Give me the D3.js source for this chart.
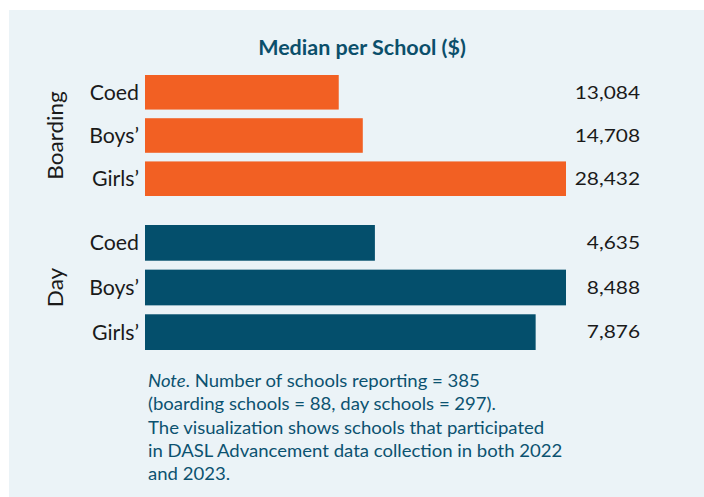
<!DOCTYPE html>
<html>
<head>
<meta charset="utf-8">
<script src="https://cdn.jsdelivr.net/npm/d3@7/dist/d3.min.js"></script>
<style>
  html, body { margin: 0; padding: 0; background: #ffffff; }
  svg { display: block; }
  text { font-family: Lato, "Open Sans", sans-serif; }
</style>
</head>
<body>
<svg id="chart" width="704" height="497"></svg>
<script>
// Median advancement figures per school, by school type
const categories = ["Coed", "Boys’", "Girls’"];
const boardingValues = [13084, 14708, 28432];
const dayValues = [4635, 8488, 7876];
const groupNames = ["Boarding", "Day"];
const noteLines = [
  ["Note", ". Number of schools reporting = 385"],
  ["", "(boarding schools = 88, day schools = 297)."],
  ["", "The visualization shows schools that participated"],
  ["", "in DASL Advancement data collection in both 2022"],
  ["", "and 2023."]
];

const svg = d3.select("#chart");
const fmt = d3.format(",");

// panel background
svg.append("rect")
  .attr("x", 9).attr("y", 10)
  .attr("width", 695).attr("height", 487)
  .attr("fill", "#ebf3f7");

svg.append("text")
  .attr("x", 362).attr("y", 54.5)
  .attr("text-anchor", "middle")
  .attr("font-weight", 700)
  .attr("font-size", 21.5)
  .attr("fill", "#0b4f6b")
  .text("Median per School ($)");

const barLeft = 145, barRight = 566;

const groups = [
  { name: groupNames[0], values: boardingValues, color: "#f26023", top: 75, bottom: 196 },
  { name: groupNames[1], values: dayValues, color: "#044f6c", top: 225, bottom: 350 }
];

groups.forEach(g => {
  // each group is scaled to its own maximum
  const x = d3.scaleLinear()
    .domain([0, d3.max(g.values)])
    .range([barLeft, barRight]);
  const y = d3.scaleBand()
    .domain(categories)
    .range([g.top, g.bottom])
    .paddingInner(0.2);

  const data = categories.map((c, i) => ({ cat: c, value: g.values[i] }));
  const grp = svg.append("g");

  grp.selectAll("rect.bar")
    .data(data)
    .join("rect")
    .attr("class", "bar")
    .attr("x", x(0))
    .attr("y", d => y(d.cat))
    .attr("width", d => x(d.value) - x(0))
    .attr("height", y.bandwidth())
    .attr("fill", g.color);

  // category labels
  grp.selectAll("text.cat")
    .data(data)
    .join("text")
    .attr("class", "cat")
    .attr("x", 139)
    .attr("y", d => y(d.cat) + y.bandwidth() / 2)
    .attr("dy", "0.35em")
    .attr("text-anchor", "end")
    .attr("font-size", 21.3)
    .attr("fill", "#1a1a1a")
    .text(d => d.cat);

  // value labels, slightly widened
  grp.selectAll("text.val")
    .data(data)
    .join("text")
    .attr("class", "val")
    .attr("transform", d => `translate(640,${y(d.cat) + y.bandwidth() / 2}) scale(1.16,1)`)
    .attr("dy", "0.35em")
    .attr("text-anchor", "end")
    .attr("font-size", 18)
    .attr("fill", "#1a1a1a")
    .text(d => fmt(d.value));

  // group label, rotated
  const cy = (g.top + g.bottom) / 2;
  grp.append("text")
    .attr("transform", `translate(63,${cy}) rotate(-90) scale(1.1,1)`)
    .attr("text-anchor", "middle")
    .attr("font-size", 20.5)
    .attr("fill", "#1a1a1a")
    .text(g.name);
});

// note beneath the chart
const note = svg.append("g");
noteLines.forEach((ln, i) => {
  const t = note.append("text")
    .attr("transform", `translate(148,${387 + i * 23.3}) scale(1.06,1)`)
    .attr("font-size", 17.5)
    .attr("fill", "#0b5270");
  if (ln[0]) t.append("tspan").attr("font-style", "italic").text(ln[0]);
  t.append("tspan").text(ln[1]);
});
</script>
</body>
</html>
